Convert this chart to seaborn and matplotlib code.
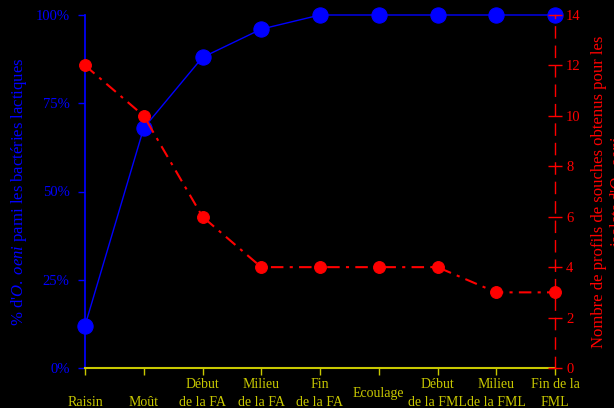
import matplotlib
matplotlib.use("Agg")
import matplotlib.pyplot as plt
import seaborn as sns
import pandas as pd

categories = ["\nRaisin", "\nMoût", "Début\nde la FA", "Milieu\nde la FA", "Fin\nde la FA",
              "Ecoulage", "Début\nde la FML", "Milieu\nde la FML", "Fin de la\nFML"]
pct_oeni = [12, 68, 88, 96, 100, 100, 100, 100, 100]
n_profils = [12, 10, 6, 4, 4, 4, 4, 3, 3]
pct_ticks = [0, 25, 50, 75, 100]
pct_labels = ["0%", "25%", "50%", "75%", "100%"]
right_ticks = [0, 2, 4, 6, 8, 10, 12, 14]

sns.set_theme(style="ticks")
plt.rcParams["font.family"] = ["Liberation Serif", "DejaVu Serif"]
plt.rcParams["mathtext.fontset"] = "custom"
plt.rcParams["mathtext.rm"] = "Liberation Serif"
plt.rcParams["mathtext.it"] = "Liberation Serif:italic"

BLUE = "#0000ff"
RED = "#ff0000"
YEL = "#c8c800"

df = pd.DataFrame({"x": list(range(len(categories))), "pct": pct_oeni, "n": n_profils})

fig = plt.figure(figsize=(6.14, 4.08), dpi=100, facecolor="black")
ax = fig.add_axes([85/614, 1-368/408, (555-85)/614, (368-15)/408])
ax.set_facecolor("black")
ax2 = ax.twinx()

sns.lineplot(data=df, x="x", y="pct", ax=ax, color=BLUE, linewidth=1.0,
             marker="o", markersize=11, markeredgecolor=BLUE, clip_on=False, zorder=3)
sns.lineplot(data=df, x="x", y="n", ax=ax2, color=RED, linewidth=1.5,
             linestyle=(0, (6, 3, 1.5, 3)), marker="o", markersize=8.5,
             markeredgecolor=RED, clip_on=False, zorder=3)

ax.set_xlim(0, len(categories) - 1)
ax.set_ylim(0, 100)
ax2.set_ylim(0, 14)

ax.set_xticks(range(len(categories)))
ax.set_xticklabels(categories, color=YEL, fontsize=10, va="center", linespacing=1.5)
ax.tick_params(axis="x", colors=YEL, length=5, width=1, pad=13, labelcolor=YEL)
ax.set_xlabel("")

ax.set_yticks(pct_ticks)
ax.set_yticklabels(pct_labels, fontsize=10.5, color=BLUE)
ax.tick_params(axis="y", colors=BLUE, length=5, width=1, pad=6)
ax.set_ylabel(r"% d'$\it{O.\ oeni}$ pami les bactéries lactiques", color=BLUE, fontsize=12)
ax.yaxis.set_label_coords(-0.12, 0.5)

ax2.set_yticks(right_ticks)
ax2.set_yticklabels([str(t) for t in right_ticks], fontsize=10.5, color=RED)
ax2.tick_params(axis="y", colors=RED, length=10, width=1, direction="inout", pad=3)
ax2.set_ylabel("Nombre de profils de souches obtenus pour les\n" + r"isolats d'$\it{O.\ oeni}$",
               color=RED, fontsize=12, va="top", rotation=90, linespacing=1.3)
ax2.yaxis.set_label_coords(1.076, 0.5)

for a in (ax, ax2):
    a.spines["top"].set_visible(False)
    a.grid(False)
ax.spines["right"].set_visible(False)
ax.spines["left"].set_color(BLUE)
ax.spines["bottom"].set_color(YEL)
ax.spines["bottom"].set_linewidth(1.5)
ax2.spines["left"].set_visible(False)
ax2.spines["bottom"].set_visible(False)
ax2.spines["right"].set_color(RED)
ax2.spines["right"].set_linestyle((0, (8, 6)))
ax2.spines["right"].set_linewidth(1.0)
ax2.set_zorder(ax.get_zorder() + 1)
ax2.patch.set_visible(False)

fig.savefig("out.png", dpi=100, facecolor="black")
